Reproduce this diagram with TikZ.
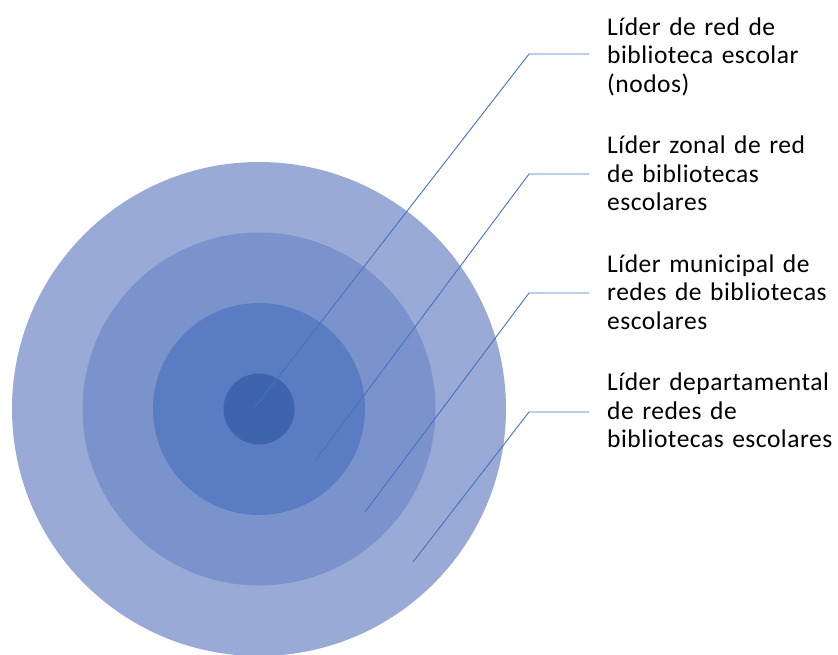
\documentclass[tikz,border=0pt]{standalone}
\usepackage{fontspec}
\setmainfont{Carlito}
\newfontfamily\lblfont[LetterSpace=2]{Carlito}
\definecolor{ring1}{RGB}{154,170,214}
\definecolor{ring2}{RGB}{122,147,205}
\definecolor{ring3}{RGB}{90,124,194}
\definecolor{ring4}{RGB}{63,100,174}
\definecolor{leader}{RGB}{68,114,196}
\tikzset{
  ring/.style={draw=none},
  lead/.style={draw=leader, line width=0.9pt},
  lbl/.style={anchor=base west, inner sep=0pt, align=left, text width=240pt,
    font=\lblfont\fontsize{25.5pt}{28.6pt}\selectfont, text=black}
}
\begin{document}
\begin{tikzpicture}[x=1pt,y=-1pt]
\useasboundingbox (0,0) rectangle (838,654);
\fill[ring1] (259,409) circle (247);
\fill[ring2] (259,409) circle (176.5);
\fill[ring3] (259,409) circle (106);
\fill[ring4] (259,409) circle (35.5);
\node[lbl] (t1) at (607,35) {Líder de red de\\biblioteca escolar\\(nodos)};
\node[lbl] (t2) at (607,153.5) {Líder zonal de red\\de bibliotecas\\escolares};
\node[lbl] (t3) at (607,272) {Líder municipal de\\redes de bibliotecas\\escolares};
\node[lbl] (t4) at (607,390.5) {Líder departamental\\de redes de\\bibliotecas escolares};
\coordinate (a1) at (255,407); \coordinate (k1) at (529,54);  \coordinate (e1) at (589,54);
\coordinate (a2) at (315,461); \coordinate (k2) at (529,174); \coordinate (e2) at (589,174);
\coordinate (a3) at (365,512); \coordinate (k3) at (529,293); \coordinate (e3) at (589,293);
\coordinate (a4) at (413,562); \coordinate (k4) at (529,412); \coordinate (e4) at (589,412);
\draw[lead] (a1) -- (k1) -- (e1);
\draw[lead] (a2) -- (k2) -- (e2);
\draw[lead] (a3) -- (k3) -- (e3);
\draw[lead] (a4) -- (k4) -- (e4);
\end{tikzpicture}
\end{document}
